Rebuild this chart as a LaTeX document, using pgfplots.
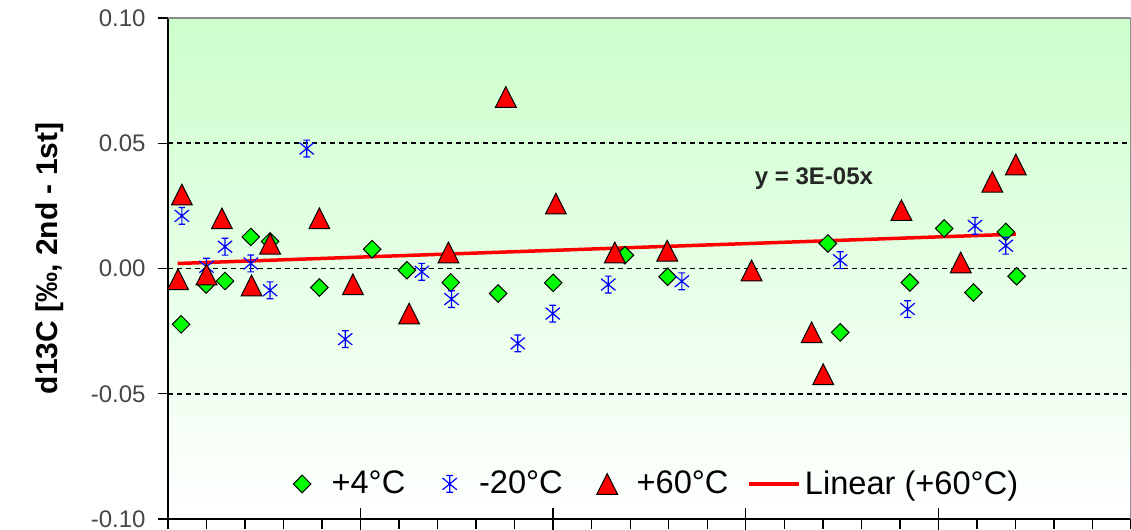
\documentclass[border=0pt]{standalone}
\usepackage{fontspec}
\setmainfont{Liberation Sans}
\usepackage{pgfplots}
\usepackage{pgfplotstable}
\pgfplotsset{compat=1.18}
\usetikzlibrary{plotmarks}
\definecolor{xlgreen}{RGB}{0,255,0}
\definecolor{xlblue}{RGB}{0,0,255}
\definecolor{xlred}{RGB}{255,0,0}
\definecolor{bgtop}{RGB}{204,255,204}
\definecolor{ticklab}{RGB}{70,70,70}

\pgfdeclareplotmark{xlstar}{%
  \pgfpathmoveto{\pgfqpoint{0pt}{\pgfplotmarksize}}%
  \pgfpathlineto{\pgfqpoint{0pt}{-\pgfplotmarksize}}%
  \pgfpathmoveto{\pgfqpoint{-.85\pgfplotmarksize}{.7\pgfplotmarksize}}%
  \pgfpathlineto{\pgfqpoint{.85\pgfplotmarksize}{-.7\pgfplotmarksize}}%
  \pgfpathmoveto{\pgfqpoint{-.85\pgfplotmarksize}{-.7\pgfplotmarksize}}%
  \pgfpathlineto{\pgfqpoint{.85\pgfplotmarksize}{.7\pgfplotmarksize}}%
  \pgfpathmoveto{\pgfqpoint{-.4\pgfplotmarksize}{\pgfplotmarksize}}%
  \pgfpathlineto{\pgfqpoint{.4\pgfplotmarksize}{\pgfplotmarksize}}%
  \pgfpathmoveto{\pgfqpoint{-.4\pgfplotmarksize}{-\pgfplotmarksize}}%
  \pgfpathlineto{\pgfqpoint{.4\pgfplotmarksize}{-\pgfplotmarksize}}%
  \pgfusepathqstroke}

\pgfplotstableread{
x y
0.34 -0.0223
0.99 -0.0064
1.48 -0.0050
2.15 0.0126
2.65 0.0108
3.93 -0.0076
5.30 0.0077
6.20 -0.0007
7.34 -0.0056
8.57 -0.0100
10.00 -0.0057
11.86 0.0053
12.97 -0.0033
17.13 0.0100
17.45 -0.0255
19.26 -0.0056
20.15 0.0160
20.91 -0.0096
21.75 0.0146
22.03 -0.0031
}\tabfour

\pgfplotstableread{
x y
0.36 0.0210
1.00 0.0007
1.48 0.0087
2.15 0.0020
2.65 -0.0087
3.60 0.0479
4.60 -0.0282
6.59 -0.0013
7.36 -0.0122
9.08 -0.0299
9.99 -0.0180
11.43 -0.0064
13.34 -0.0051
17.45 0.0033
19.20 -0.0162
20.95 0.0170
21.75 0.0091
}\tabminus

\pgfplotstableread{
x y
0.26 -0.0043
0.36 0.0295
1.00 -0.0024
1.40 0.0200
2.17 -0.0068
2.65 0.0099
3.93 0.0200
4.80 -0.0063
6.26 -0.0180
7.28 0.0064
8.77 0.0685
10.07 0.0259
11.60 0.0064
12.96 0.0071
15.15 -0.0008
16.71 -0.0255
17.01 -0.0422
19.04 0.0233
20.58 0.0024
21.40 0.0346
22.01 0.0415
}\tabsixty

\pgfplotstableread{
x y
0.25 0.0020
22.01 0.0137
}\tabtrend

\begin{document}
\begin{tikzpicture}
\begin{axis}[
  scale only axis,
  width=481.5pt, height=250.5pt,
  xmin=0, xmax=25, ymin=-0.1, ymax=0.1,
  clip=false,
  axis background/.style={shade, top color=bgtop, bottom color=white},
  axis x line*=bottom, axis y line*=left,
  axis line style={black, line width=0.9pt, -},
  tick style={black, line width=0.7pt},
  tick align=outside,
  major tick length=5pt,
  xtick={0,1,...,25}, xticklabels={},
  extra x ticks={5,10,15,20}, extra x tick labels={},
  extra x tick style={tick align=center, major tick length=11pt, grid=none},
  ytick={-0.1,-0.05,0,0.05,0.1},
  yticklabels={-0.10,-0.05,0.00,0.05,0.10},
  yticklabel style={font=\fontsize{12pt}{14pt}\selectfont, text=ticklab, inner sep=0pt, xshift=-6pt},
  ymajorgrids,
  grid style={black, line width=0.85pt, dash pattern=on 2.5pt off 2pt},
  ylabel={d13C [‰, 2nd - 1st]},
  every axis y label/.style={at={(rel axis cs:0,0.52)}, xshift=-59pt, rotate=90, anchor=center,
    font=\fontsize{15pt}{18pt}\selectfont\bfseries},
  legend columns=4,
  legend cell align=left,
  legend image code/.code={\draw[mark repeat=2,mark phase=2] plot coordinates {(0pt,0pt) (12.5pt,0pt) (25pt,0pt)};
    \path (0pt,-1pt) (25pt,1pt);},
  legend style={at={(rel axis cs:0.5,0.07)}, anchor=center, draw=none, fill=none,
    font=\fontsize{16.3pt}{19pt}\selectfont,
    nodes={inner xsep=2pt, inner ysep=1pt},
    /tikz/every even column/.append style={column sep=7.5pt}},
  after end axis/.code={
    \draw[black!45, line width=0.6pt] (rel axis cs:0,1) -- (rel axis cs:1,1) -- (rel axis cs:1,0);
    \coordinate (sw) at (rel axis cs:0,0);
    \coordinate (ne) at (rel axis cs:1,1);
  },
]
\addplot[only marks, mark=square*, mark size=3.1pt,
  mark options={fill=xlgreen, draw=black, line width=0.5pt, rotate=45}] table {\tabfour};
\addlegendentry{+4°C}
\addplot[only marks, mark=xlstar, mark size=4.2pt,
  mark options={draw=xlblue, line width=0.6pt}] table {\tabminus};
\addlegendentry{-20°C}
\addplot[only marks, mark=triangle*, mark size=6pt,
  mark options={fill=xlred, draw=black, line width=0.5pt, yshift=-1.725pt, yscale=1.15}] table {\tabsixty};
\addlegendentry{+60°C}
\addplot[xlred, line width=1.75pt, no markers] table {\tabtrend};
\addlegendentry{Linear (+60°C)}
\node[font=\fontsize{12pt}{14pt}\selectfont\bfseries, text=black!85] at (axis cs:16.77,0.0359) {y = 3E-05x};
\end{axis}
\pgfresetboundingbox
\path[use as bounding box] ([xshift=-84pt,yshift=-5.5pt]sw) rectangle ([yshift=9pt]ne);
\end{tikzpicture}
\end{document}
